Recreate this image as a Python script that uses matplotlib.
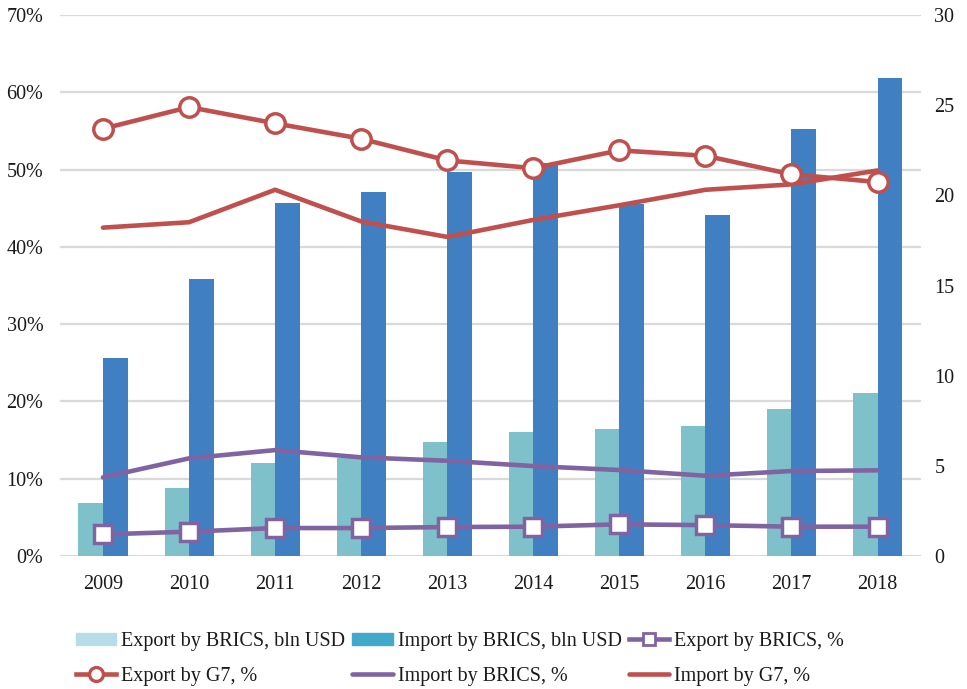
import numpy as np
import matplotlib
matplotlib.use("Agg")
import matplotlib.pyplot as plt
from matplotlib.patches import Patch
from matplotlib.lines import Line2D

plt.rcParams['font.family'] = ['Liberation Serif', 'DejaVu Serif']

years = ['2009', '2010', '2011', '2012', '2013', '2014', '2015', '2016', '2017', '2018']

# bln USD (right axis)
export_brics_bln = [2.92, 3.79, 5.16, 5.42, 6.32, 6.88, 7.04, 7.21, 8.17, 9.04]
import_brics_bln = [10.96, 15.36, 19.6, 20.2, 21.3, 21.8, 19.5, 18.9, 23.7, 26.5]

# shares, % (left axis)
export_brics_pct = [2.8, 3.15, 3.62, 3.62, 3.75, 3.8, 4.1, 4.0, 3.8, 3.8]
import_brics_pct = [10.18, 12.64, 13.71, 12.77, 12.33, 11.64, 11.13, 10.39, 11.0, 11.09]
export_g7_pct = [55.3, 58.1, 56.0, 54.0, 51.2, 50.2, 52.5, 51.8, 49.4, 48.4]
import_g7_pct = [42.5, 43.2, 47.4, 43.3, 41.3, 43.5, 45.4, 47.4, 48.1, 49.9]

pct_ticks = [0, 10, 20, 30, 40, 50, 60, 70]
bln_ticks = [0, 5, 10, 15, 20, 25, 30]

red = '#c0504d'
purple = '#8064a2'
bar_exp = '#7fc1cb'
bar_imp = '#4080c2'
leg_exp = '#b7dee8'
leg_imp = '#41a9c9'
grid_c = '#d9d9d9'
txt = '#1a1a1a'

fig = plt.figure(figsize=(9.67, 6.89), dpi=100)
ax_bar = fig.add_axes([0.062, 0.193, 0.890, 0.785])
ax = ax_bar.twinx()

x = np.arange(len(years))
w = 0.285

# gridlines at the percent ticks, behind the bars
for p in pct_ticks:
    ax_bar.axhline(p * 30 / 70, color=grid_c, lw=1.6, zorder=0)

ax_bar.bar(x - w / 2, export_brics_bln, w, color=bar_exp, zorder=2)
ax_bar.bar(x + w / 2, import_brics_bln, w, color=bar_imp, zorder=2)
ax_bar.set_ylim(0, 30)
ax_bar.set_xlim(-0.5, len(years) - 0.5)
ax_bar.set_yticks(bln_ticks)
ax_bar.yaxis.tick_right()
ax_bar.set_xticks(x)
ax_bar.set_xticklabels(years)

ax.plot(x, import_g7_pct, color=red, lw=3.3, solid_capstyle='round', zorder=3)
ax.plot(x, import_brics_pct, color=purple, lw=3.3, solid_capstyle='round', zorder=3)
ax.plot(x, export_g7_pct, color=red, lw=3.3, marker='o', ms=14, mfc='white',
        mec=red, mew=2.5, zorder=4)
ax.plot(x, export_brics_pct, color=purple, lw=3.3, marker='s', ms=12.5, mfc='white',
        mec=purple, mew=2.5, zorder=4)
ax.set_ylim(0, 70)
ax.set_yticks(pct_ticks)
ax.set_yticklabels([f'{p}%' for p in pct_ticks])
ax.yaxis.tick_left()

for a in (ax, ax_bar):
    for s in a.spines.values():
        s.set_visible(False)
    a.tick_params(length=0, labelsize=14.5, colors=txt)
ax_bar.tick_params(axis='x', pad=14)
ax_bar.tick_params(axis='y', pad=10)
ax.tick_params(axis='y', pad=12)

h_exp = Patch(color=leg_exp)
h_imp = Patch(color=leg_imp)
h_eb = Line2D([], [], color=purple, lw=3.3, marker='s', ms=9, mfc='white', mec=purple, mew=2)
h_eg = Line2D([], [], color=red, lw=3.3, marker='o', ms=10, mfc='white', mec=red, mew=2.4)
h_ib = Line2D([], [], color=purple, lw=3.3, solid_capstyle='round')
h_ig = Line2D([], [], color=red, lw=3.3, solid_capstyle='round')

# column-major order so it reads row by row
handles = [h_exp, h_eg, h_imp, h_ib, h_eb, h_ig]
labels = ['Export by BRICS, bln USD', 'Export by G7, %',
          'Import by BRICS, bln USD', 'Import by BRICS, %',
          'Export by BRICS, %', 'Import by G7, %']
leg = fig.legend(handles, labels, ncol=3, loc='center', bbox_to_anchor=(460 / 967, 1 - 659 / 689),
                 frameon=False, fontsize=14.5, handlelength=2.0, handleheight=0.6,
                 handletextpad=0.25, columnspacing=0.35, labelspacing=0.78)
for t in leg.get_texts():
    t.set_color(txt)

fig.savefig('out.png', dpi=100)
